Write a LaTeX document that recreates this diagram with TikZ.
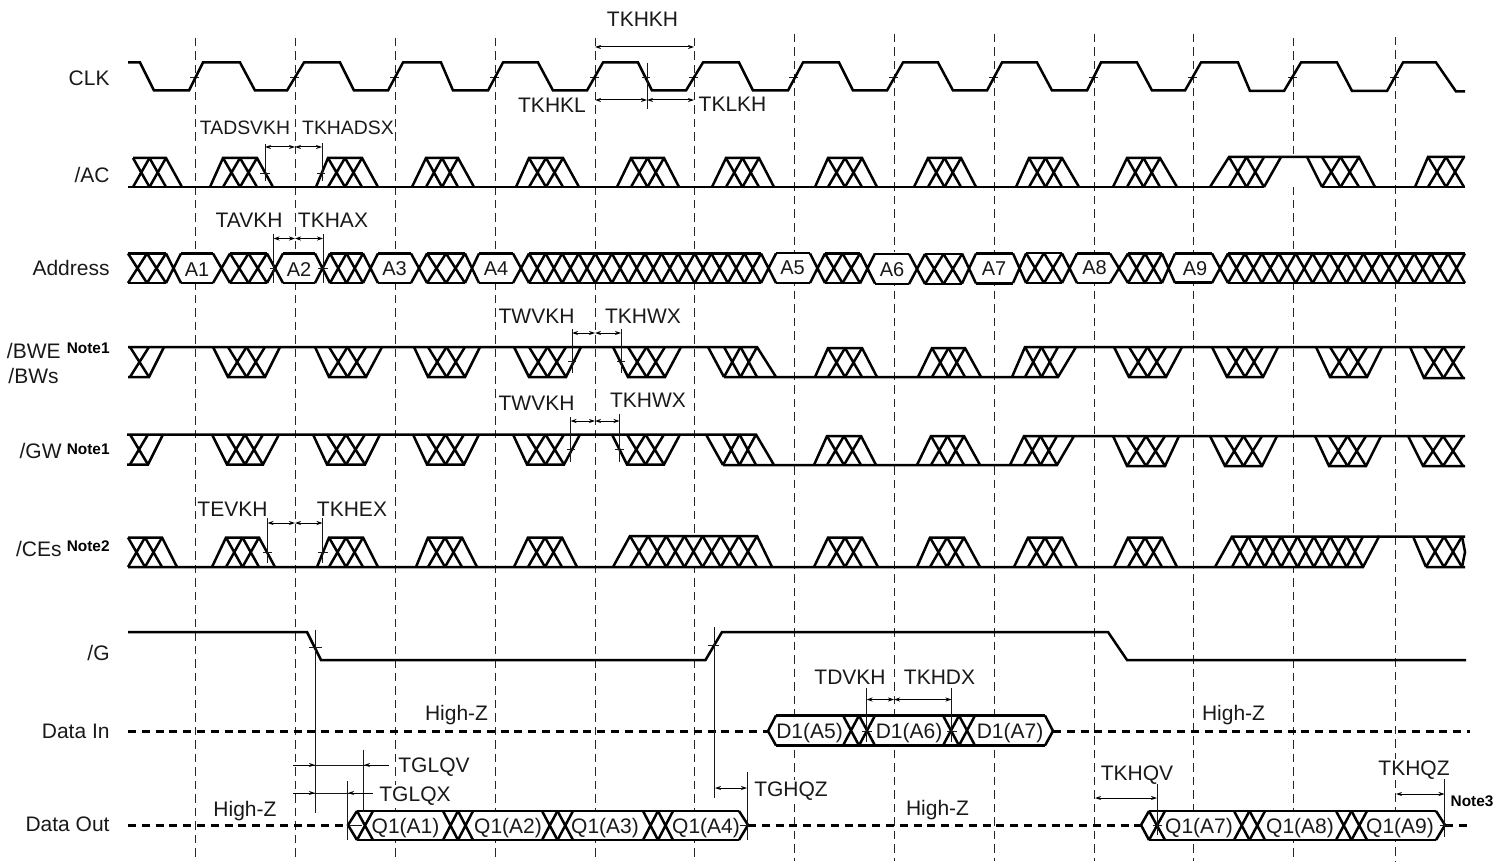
\documentclass[tikz,border=0pt]{standalone}
\usepackage{fontspec}
\setmainfont{Liberation Sans}
\usetikzlibrary{arrows.meta}
\tikzset{
  sig/.style={line width=1.25pt,line join=miter,line cap=butt},
  gridline/.style={line width=0.5pt,dash pattern=on 4.25pt off 2.5pt,black!85},
  hiz/.style={line width=1.5pt,dash pattern=on 4pt off 2.9pt},
  thin1/.style={line width=0.5pt,black!90},
  dimen/.style={line width=0.5pt,{Stealth[length=3pt,width=2pt]}-{Stealth[length=3pt,width=2pt]}},
  dimhead/.style={line width=0.5pt,-{Stealth[length=3pt,width=2pt]}},
  lab/.style={inner sep=0pt,font=\fontsize{10.5}{12}\selectfont,text height=7.5pt,text depth=0pt,text=black!90},
  labwide/.style={lab,fill=white,inner xsep=0.5pt,inner ysep=1pt},
  labnarrow/.style={lab,font=\fontsize{9.7}{12}\selectfont},
  alab/.style={inner sep=0pt,font=\fontsize{10}{12}\selectfont,text height=7.2pt,text depth=0pt,text=black!90},
  note/.style={inner sep=0pt,font=\fontsize{7.7}{9}\selectfont\bfseries,text height=5.5pt,text depth=0pt},
}
% X cells between x3 and x4
\newcommand{\xcells}[5]{%
  \pgfmathsetmacro\cellw{(#4-#3)/#5}%
  \foreach \ci in {1,...,#5}{%
    \pgfmathsetmacro\xl{#3+(\ci-1)*\cellw}%
    \pgfmathsetmacro\xr{#3+\ci*\cellw}%
    \draw[sig] (\xl,#1)--(\xr,#2) (\xl,#2)--(\xr,#1);
  }}
% far level, base level, foot, shoulder, shoulder, foot, cells
\newcommand{\trap}[7]{%
  \draw[sig] (#3,#2)--(#4,#1)--(#5,#1)--(#6,#2);
  \xcells{#1}{#2}{#4}{#5}{#7}}
% hatched stretch with its rails
\newcommand{\hatchbus}[5]{%
  \draw[sig] (#3,#1)--(#4,#1) (#3,#2)--(#4,#2);
  \xcells{#1}{#2}{#3}{#4}{#5}}
\newcommand{\tick}[3]{\draw[thin1] (#1,#3)--(#2,#3);}
\newcommand{\vmark}[3]{\draw[thin1] (#1,#2)--(#1,#3);}
\begin{document}
\begin{tikzpicture}[x=0.5pt,y=-0.5pt]
\useasboundingbox (0,0) rectangle (1497,861);
% grid
\foreach \gx/\gy in {195/38,295/38,395/38,495/38,595/38,694/38,794/34,894/34,994/34,1094/34,1193/34,1293/38,1395/37}{
  \draw[gridline] (\gx,\gy)--(\gx,861);
  \ifnum\gx=994\else\tick{\gx-5}{\gx+4}{77.5}\fi
}
\tick{989}{998}{77.5}
% white backs of the buses
\fill[white] (128,252) rectangle (1465,284);
\fill[white] (776,715) rectangle (1045,746);
\fill[white] (357,810) rectangle (739,841);
\fill[white] (1149,810) rectangle (1436,841);
\fill[white] (630,536) rectangle (757,567);
\fill[white] (1232,536) rectangle (1363,567);
\fill[white] (1229,158) rectangle (1359,187);
% CLK
\draw[sig] (128,62.5)--(140,62.5)--(154,90.5)--(189,90.5)--(203,62.5)--(240,62.5)--(255,90.5)--(287,90.5)--(304,62.5)--(340,62.5)--(354,90.5)--(388,90.5)--(403,62.5)--(441,62.5)--(453,90.5)--(488,90.5)--(503,62.5)--(538,62.5)--(553,90.5)--(587,90.5)--(603,62.5)--(638,62.5)--(652,90.5)--(686,90.5)--(703,62.5)--(739,62.5)--(753,90.5)--(788,90.5)--(803,62.5)--(839,62.5)--(853,90.5)--(887,90.5)--(903,62.5)--(938,62.5)--(953,90.5)--(987,90.5)--(1002,62.5)--(1037,62.5)--(1052,90.5)--(1087,90.5)--(1101,62.5)--(1137,62.5)--(1152,90.5)--(1185,90.5)--(1201,62.5)--(1238,62.5)--(1250,91)--(1284,91)--(1301,62.5)--(1337,62.5)--(1352,91)--(1387,91)--(1403,62.5)--(1436,62.5)--(1456,91.5)--(1465,91.5);
% /AC
\draw[sig] (128,187)--(1264,187) (1322,187)--(1465,187);
\draw[sig] (133,158)--(166,158)--(182,187);
\xcells{158}{187}{133}{166}{2}
\foreach \pa/\pb/\pc/\pd in {210/223/257/273,316/328/362/378,412/426/458/474,516/529/563/579,617/631/664/679,712/726/759/774,815/828/862/877,914/928/961/976,1016/1029/1062/1079,1113/1127/1160/1177}{
  \trap{158}{187}{\pa}{\pb}{\pc}{\pd}{2}
}
\draw[sig] (1210,187)--(1229,157)--(1359,157)--(1375,187);
\draw[sig] (1264,187)--(1281,157) (1307,157)--(1322,187);
\xcells{157}{187}{1229}{1264}{2}
\xcells{157}{187}{1322}{1359}{2}
\draw[sig] (1415,187)--(1428,157)--(1465,157);
\xcells{157}{187}{1428}{1464}{2}
% Address
\hatchbus{253.5}{283}{128}{166}{2}
\xcells{253.5}{283}{166}{181}{1}
\draw[sig] (181,253.5)--(213,253.5) (181,283)--(213,283);
\node[alab] (hexA1) at (197,269) {A1};
\xcells{253.5}{283}{213}{230}{1}
\hatchbus{253.5}{283}{230}{267}{2}
\xcells{253.5}{283}{267}{283}{1}
\draw[sig] (283,253.5)--(315,253.5) (283,283)--(315,283);
\node[alab] (hexA2) at (299,269) {A2};
\xcells{253.5}{283}{315}{330}{1}
\hatchbus{253.5}{283}{330}{363}{2}
\xcells{253.5}{283}{363}{378}{1}
\draw[sig] (378,253.5)--(411,253.5) (378,283)--(411,283);
\node[alab] (hexA3) at (394.5,268) {A3};
\xcells{253.5}{283}{411}{427}{1}
\hatchbus{253.5}{283}{427}{465}{2}
\xcells{253.5}{283}{465}{479}{1}
\draw[sig] (479,253.5)--(513,253.5) (479,283)--(513,283);
\node[alab] (hexA4) at (496,268) {A4};
\xcells{253.5}{283}{513}{529}{1}
\hatchbus{253.5}{283}{529}{761}{14}
\xcells{253.5}{283}{761}{776}{1}
\draw[sig] (776,253)--(810,253) (776,283)--(810,283);
\node[alab] (hexA5) at (792.5,267) {A5};
\xcells{253.5}{283}{810}{825}{1}
\hatchbus{253.5}{283}{825}{860}{2}
\xcells{253.5}{283.5}{860}{875}{1}
\draw[sig] (875,254)--(909,254) (875,284)--(909,284);
\node[alab] (hexA6) at (892,269) {A6};
\xcells{254}{284}{909}{925}{1}
\hatchbus{254}{284}{925}{962}{2}
\xcells{253.5}{283.5}{962}{976}{1}
\draw[sig] (976,253.5)--(1013,253.5) (976,283.5)--(1013,283.5);
\node[alab] (hexA7) at (994,268) {A7};
\xcells{253.5}{283}{1013}{1026}{1}
\hatchbus{253}{283}{1026}{1062}{2}
\xcells{253.5}{283}{1062}{1077}{1}
\draw[sig] (1077,253.5)--(1110,253.5) (1077,283)--(1110,283);
\node[alab] (hexA8) at (1094.5,267) {A8};
\xcells{253.5}{283}{1110}{1128}{1}
\hatchbus{253.5}{283}{1128}{1162}{2}
\xcells{253.5}{283}{1162}{1175}{1}
\draw[sig] (1175,253.5)--(1212,253.5) (1175,282.5)--(1212,282.5);
\node[alab] (hexA9) at (1195,268) {A9};
\xcells{253.5}{283}{1212}{1228}{1}
\hatchbus{253.5}{283}{1228}{1465}{14}
% /BWE
\draw[sig] (128,347)--(757,347)--(776,377) (724,377)--(1058,377)--(1076,347) (1012,377)--(1025,347)--(1465,347);
\draw[sig] (128,377)--(149,377)--(164,347);
\xcells{347}{377}{130}{149}{1}
\foreach \pa/\pb/\pc/\pd in {213/228/265/280,315/329/366/382,414/428/465/480,514/529/566/581,613/628/665/681,1114/1129/1166/1182,1212/1227/1263/1278,1316/1330/1367/1382}{
  \trap{377}{347}{\pa}{\pb}{\pc}{\pd}{2}
}
\draw[sig] (708,347)--(724,377);
\xcells{347}{377}{724}{757}{2}
\foreach \pa/\pb/\pc/\pd in {815/828/862/877,918/932/965/981}{
  \trap{348}{377}{\pa}{\pb}{\pc}{\pd}{2}
}
\xcells{347}{377}{1025}{1058}{2}
\draw[sig] (1410,347)--(1424,378)--(1465,378);
\xcells{347}{378}{1424}{1463}{2}
% /GW
\draw[sig] (127,434.5)--(756,434.5)--(774,465) (723,465)--(1057,465)--(1074,436) (1010,465)--(1024,436)--(1465,436);
\draw[sig] (127,464.5)--(148,464.5)--(163,434.5);
\xcells{434.5}{464.5}{130}{148}{1}
\foreach \pa/\pb/\pc/\pd in {212/227/263/279,313/327/365/380,413/427/464/479,513/527/564/580,612/627/664/680}{
  \trap{464.5}{434.5}{\pa}{\pb}{\pc}{\pd}{2}
}
\foreach \pa/\pb/\pc/\pd in {1113/1127/1165/1179,1210/1225/1262/1277,1315/1329/1366/1381}{
  \trap{466}{436}{\pa}{\pb}{\pc}{\pd}{2}
}
\draw[sig] (706,434.5)--(723,465);
\xcells{434.5}{465}{723}{756}{2}
\foreach \pa/\pb/\pc/\pd in {814/827/861/876,917/931/964/980}{
  \trap{436}{465}{\pa}{\pb}{\pc}{\pd}{2}
}
\xcells{436}{465}{1024}{1057}{2}
\draw[sig] (1408,436)--(1423,466)--(1465,466);
\xcells{436}{466}{1423}{1463}{2}
% /CEs
\draw[sig] (128,567)--(1363,567)--(1379,536.5)--(1465,536.5) (1426,567)--(1465,567);
\draw[sig] (128,537.5)--(162,537.5)--(177,567);
\xcells{537.5}{567}{128}{162}{2}
\foreach \pa/\pb/\pc/\pd in {212/226/259/275,317/329/363/378,416/428/462/477,514/528/562/577,814/828/862/878,917/930/964/980,1014/1028/1062/1077,1114/1128/1162/1177}{
  \trap{537.5}{567}{\pa}{\pb}{\pc}{\pd}{2}
}
\trap{536}{567}{613}{630}{757}{772}{7}
\draw[sig] (1215,567)--(1232,536.5)--(1379,536.5);
\xcells{536.5}{567}{1232}{1363}{8}
\draw[sig] (1413,536.5)--(1426,567);
\xcells{536.5}{567}{1426}{1462}{2}
\draw[sig] (1462,536.5)--(1465,552)--(1462,567);
% /G
\draw[sig] (128,632)--(307,632)--(321,660)--(705.5,660)--(722,632)--(1108,632)--(1127,660)--(1466,660);
% Data In
\draw[hiz] (128,731)--(768,731);
\draw[hiz] (1053,731)--(1470,731);
\draw[sig] (776,715.5)--(768,731)--(776,745.5) (1045,715.5)--(1053,731)--(1045,745.5);
\draw[sig] (776,715.5)--(1045,715.5) (776,745.5)--(1045,745.5);
\xcells{715.5}{745.5}{843}{875}{2}
\xcells{715.5}{745.5}{943}{975}{2}
\node[lab] (din1) at (809.5,731) {D1(A5)};
\node[lab] (din2) at (909,731) {D1(A6)};
\node[lab] (din3) at (1010,731) {D1(A7)};
% Data Out
\draw[hiz] (128,825)--(348,825);
\draw[hiz] (748,825)--(1141,825);
\draw[hiz] (1445,825)--(1467,825);
\draw[sig] (357,811)--(348,825)--(357,840) (739,811)--(748,825)--(739,840);
\draw[sig] (357,811)--(739,811) (357,840)--(739,840);
\xcells{811}{840}{357}{373}{1}
\xcells{811}{840}{443}{473}{2}
\xcells{811}{840}{542}{573}{2}
\xcells{811}{840}{643}{673}{2}
\draw[sig] (1149,811)--(1141,825)--(1149,840) (1436,811)--(1445,825)--(1436,840);
\draw[sig] (1149,811)--(1436,811) (1149,840)--(1436,840);
\xcells{811}{840}{1149}{1165}{1}
\xcells{811}{840}{1234}{1265}{2}
\xcells{811}{840}{1336}{1367}{2}
\node[lab] (qo1) at (405.5,826) {Q1(A1)};
\node[lab] (qo2) at (508,826) {Q1(A2)};
\node[lab] (qo3) at (605,826) {Q1(A3)};
\node[lab] (qo4) at (706,826) {Q1(A4)};
\node[lab] (qo7) at (1199,826) {Q1(A7)};
\node[lab] (qo8) at (1300,826) {Q1(A8)};
\node[lab] (qo9) at (1400,826) {Q1(A9)};
% row labels
\node[lab,anchor=east] (lclk) at (110,78.5) {CLK};
\node[lab,anchor=east] (lac) at (110,175) {/AC};
\node[lab,anchor=east] (laddr) at (110,268) {Address};
\node[lab,anchor=east] (lbwe) at (61,351) {/BWE};
\node[lab,anchor=east] (lbws) at (59,376) {/BWs};
\node[note,anchor=east] (nbwe) at (110,347.5) {Note1};
\node[lab,anchor=east] (lgw) at (62,451) {/GW};
\node[note,anchor=east] (ngw) at (110,449) {Note1};
\node[lab,anchor=east] (lces) at (62,549) {/CEs};
\node[note,anchor=east] (nces) at (110,546) {Note2};
\node[lab,anchor=east] (lg) at (110,653) {/G};
\node[lab,anchor=east] (ldin) at (110,731) {Data In};
\node[lab,anchor=east] (ldout) at (110,824) {Data Out};
% High-Z
\node[lab] (hz1) at (456.5,713) {High-Z};
\node[lab] (hz2) at (1233.5,713) {High-Z};
\node[lab] (hz3) at (245,809) {High-Z};
\node[lab] (hz4) at (937.5,808) {High-Z};
% TKHKH etc
\node[lab] (tkhkh) at (642.5,19) {TKHKH};
\draw[dimen] (595,47)--(694,47);
\node[lab] (tkhkl) at (552,105) {TKHKL};
\node[lab] (tklkh) at (732.5,104) {TKLKH};
\vmark{647}{63}{109}
\tick{642}{650}{77.5}
\draw[dimen] (595,100)--(647,100);
\draw[dimen] (647,100)--(694,100);
% /AC timing
\node[labnarrow] (tadsvkh) at (245,127) {TADSVKH};
\node[labnarrow] (tkhadsx) at (348,127) {TKHADSX};
\vmark{265}{144}{181}
\vmark{322}{143}{181}
\draw[dimen] (265,147)--(295,147);
\draw[dimen] (295,147)--(322,147);
\tick{260}{270}{173.5}
\tick{317}{325}{173.5}
% Address timing
\node[lab] (tavkh) at (249,220) {TAVKH};
\node[lab] (tkhax) at (333,220) {TKHAX};
\vmark{273.5}{234}{283}
\vmark{323}{234}{283}
\draw[dimen] (273.5,238.5)--(295,238.5);
\draw[dimen] (295,238.5)--(323,238.5);
\tick{270}{277}{268}
\tick{318}{328}{268}
% /BWE timing
\node[lab] (twvkha) at (536.5,316) {TWVKH};
\node[lab] (tkhwxa) at (643,316) {TKHWX};
\vmark{572}{329}{373}
\vmark{621}{329}{373}
\draw[dimen] (572,333)--(595,333);
\draw[dimen] (595,333)--(621,333);
\tick{568}{576}{361.5}
\tick{617}{625}{361.5}
% /GW timing
\node[lab] (twvkhb) at (536.5,403) {TWVKH};
\node[lab] (tkhwxb) at (648,400) {TKHWX};
\vmark{570.5}{417}{462}
\vmark{619.5}{414}{462}
\draw[dimen] (570.5,421)--(595,421);
\draw[dimen] (595,421)--(619.5,421);
\tick{567}{575}{449}
\tick{615}{624}{449}
% /CEs timing
\node[lab] (tevkh) at (232.5,509) {TEVKH};
\node[lab] (tkhex) at (352,509) {TKHEX};
\vmark{267.5}{518}{563}
\vmark{322.5}{518}{563}
\draw[dimen] (267.5,523)--(295,523);
\draw[dimen] (295,523)--(322.5,523);
\tick{263}{272}{552}
\tick{318}{328}{552}
% /G timing
\vmark{315.5}{630}{812.5}
\tick{309}{322}{647.5}
\vmark{363.5}{750}{812}
\vmark{347.5}{781}{840}
\draw[thin1] (293,765)--(389,765);
\draw[dimhead] (293,765)--(315,765);
\draw[dimhead] (389,765)--(364,765);
\node[lab] (tglqv) at (434,765) {TGLQV};
\draw[thin1] (293,793)--(372.5,793);
\draw[dimhead] (293,793)--(315,793);
\draw[dimhead] (372.5,793)--(348,793);
\node[labwide] (tglqx) at (415,794) {TGLQX};
\vmark{714.5}{627}{798}
\vmark{747.5}{772}{840}
\tick{708}{719}{645}
\tick{740}{749}{825}
\tick{350}{362}{825}
\draw[dimen] (715,788)--(747,788);
\node[labwide] (tghqz) at (791,789) {TGHQZ};
% Data In timing
\node[lab] (tdvkh) at (850,677) {TDVKH};
\node[lab] (tkhdx) at (939.5,677) {TKHDX};
\vmark{866.5}{688}{742}
\vmark{951.5}{688}{742}
\draw[dimen] (866.5,699.5)--(894,699.5);
\draw[dimen] (894,699.5)--(951.5,699.5);
\tick{862}{872}{731}
\tick{947}{957}{731}
% Data Out right timing
\node[lab] (tkhqv) at (1137,773) {TKHQV};
\draw[dimen] (1095,798)--(1157,798);
\vmark{1157}{784}{835}
\tick{1153}{1162}{825}
\node[labwide] (tkhqz) at (1414,768) {TKHQZ};
\draw[dimen] (1396,794)--(1444.5,794);
\vmark{1444.5}{779}{837}
\tick{1440}{1450}{825}
\node[note] (note3) at (1472,801) {Note3};
\end{tikzpicture}
\end{document}
